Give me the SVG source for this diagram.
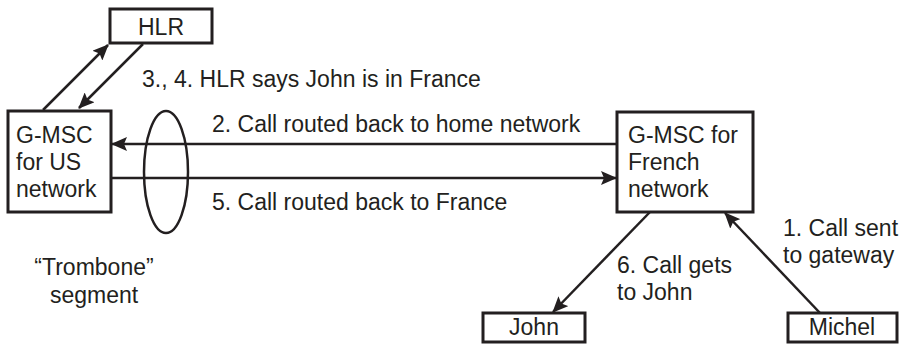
<svg xmlns="http://www.w3.org/2000/svg" width="905" height="348" viewBox="0 0 905 348">
<defs>
<marker id="ah" markerUnits="userSpaceOnUse" markerWidth="16" markerHeight="14" refX="15" refY="7" orient="auto">
<path d="M0,0 L16,7 L0,14 L3,7 z" fill="#231f20"/>
</marker>
<style>
.box{fill:#fff;stroke:#231f20;stroke-width:3}
.ln{stroke:#231f20;stroke-width:2.5;fill:none}
.t{font-family:"Liberation Sans",Arial,sans-serif;font-size:23px;fill:#231f20}
.c{text-anchor:middle}
</style>
</defs>
<g id="connectors">
<line class="ln" x1="43" y1="110" x2="108" y2="45" marker-end="url(#ah)"/>
<line class="ln" x1="143" y1="44" x2="79" y2="108" marker-end="url(#ah)"/>
<line class="ln" x1="616" y1="144" x2="112" y2="144" marker-end="url(#ah)"/>
<line class="ln" x1="111" y1="178" x2="616" y2="178" marker-end="url(#ah)"/>
<line class="ln" x1="650" y1="212" x2="553" y2="312" marker-end="url(#ah)"/>
<line class="ln" x1="820" y1="313" x2="725" y2="213" marker-end="url(#ah)"/>
<ellipse class="ln" cx="166" cy="172" rx="22" ry="61"/>
<text class="t" x="142" y="87">3., 4. HLR says John is in France</text>
<text class="t" x="212" y="132">2. Call routed back to home network</text>
<text class="t" x="212" y="210">5. Call routed back to France</text>
<text class="t" x="617" y="273">6. Call gets</text>
<text class="t" x="617" y="300">to John</text>
<text class="t" x="783" y="236">1. Call sent</text>
<text class="t" x="783" y="263">to gateway</text>
<text class="t c" x="94" y="275">“Trombone”</text>
<text class="t c" x="94" y="303">segment</text>
</g>
<g id="hlr">
<rect class="box" x="110" y="9" width="102" height="34"/>
<text class="t c" x="161" y="35">HLR</text>
</g>
<g id="gmsc-us">
<rect class="box" x="8" y="111" width="103" height="101"/>
<text class="t" x="16" y="143">G-MSC</text>
<text class="t" x="16" y="170">for US</text>
<text class="t" x="16" y="197">network</text>
</g>
<g id="gmsc-fr">
<rect class="box" x="617" y="112" width="136" height="100"/>
<text class="t" x="628" y="143">G-MSC for</text>
<text class="t" x="628" y="170">French</text>
<text class="t" x="628" y="197">network</text>
</g>
<g id="john">
<rect class="box" x="483" y="313" width="102" height="29"/>
<text class="t c" x="534" y="335">John</text>
</g>
<g id="michel">
<rect class="box" x="788" y="313" width="109" height="29"/>
<text class="t c" x="842" y="335">Michel</text>
</g>
</svg>
